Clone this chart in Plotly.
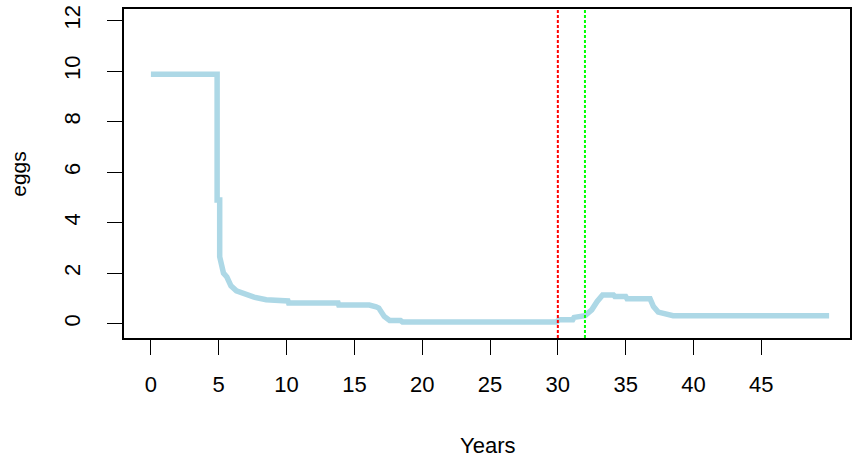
import plotly.graph_objects as go

# Data
years = [0, 4.88, 4.88, 5.07, 5.07, 5.2, 5.35, 5.6, 5.9, 6.3, 7.0, 7.6, 8.5, 10.1, 10.15, 13.8, 13.85,
         16.1, 16.6, 16.8, 17.2, 17.6, 18.4, 18.55, 29.9, 30.1, 31.1, 31.2, 32.0, 32.5, 32.9, 33.3,
         34.1, 34.2, 35.0, 35.1, 36.8, 37.05, 37.4, 38.4, 38.5, 50]
eggs = [9.87, 9.87, 4.9, 4.9, 2.65, 2.2, 2.0, 1.85, 1.5, 1.3, 1.15, 1.05, 0.95, 0.9, 0.82, 0.82, 0.74,
        0.74, 0.67, 0.62, 0.29, 0.13, 0.13, 0.07, 0.07, 0.16, 0.16, 0.25, 0.32, 0.55, 0.88, 1.14,
        1.14, 1.08, 1.08, 0.99, 0.99, 0.68, 0.46, 0.38, 0.32, 0.32]
vlines = [30, 32]
vline_colors = ["#FF0000", "#00FF00"]
x_ticks = [0, 5, 10, 15, 20, 25, 30, 35, 40, 45]
y_ticks = [0, 2, 4, 6, 8, 10, 12]

FONT = "Liberation Sans, Arial, sans-serif"

fig = go.Figure()
fig.add_trace(go.Scatter(x=years, y=eggs, mode="lines",
                         line=dict(color="#ADD8E6", width=5.5), showlegend=False,
                         hoverinfo="skip"))

for xv, col in zip(vlines, vline_colors):
    fig.add_shape(type="line", xref="x", yref="paper", x0=xv, x1=xv, y0=0, y1=1,
                  line=dict(color=col, width=2, dash="3px,2px"))

fig.update_layout(
    width=852, height=464,
    margin=dict(l=124, r=0, t=9, b=126),
    paper_bgcolor="white", plot_bgcolor="white",
    font=dict(family=FONT, size=21, color="#000000"),
    xaxis=dict(range=[-1.985, 51.54], tickvals=x_ticks, ticktext=[str(v) for v in x_ticks],
               showgrid=False, zeroline=False, showline=True, mirror=True,
               linecolor="#000000", linewidth=1.5, ticks="outside", ticklen=15,
               tickwidth=1.3, tickcolor="#000000", ticklabelstandoff=11,
               tickfont=dict(family=FONT, size=22)),
    yaxis=dict(range=[-0.565, 12.455], tickvals=y_ticks, ticktext=[str(v) for v in y_ticks],
               showgrid=False, zeroline=False, showline=True, mirror=True,
               linecolor="#000000", linewidth=1.5, ticks="outside", ticklen=15,
               tickwidth=1.3, tickcolor="#000000", tickangle=-90, ticklabelstandoff=18,
               tickfont=dict(family=FONT, size=22)),
    annotations=[
        dict(text="Years", xref="paper", yref="paper", x=(489 - 124) / 728, y=-(445 - 338) / 329,
             showarrow=False, xanchor="center", yanchor="middle",
             font=dict(family=FONT, size=22)),
        dict(text="eggs", xref="paper", yref="paper", x=-(124 - 18) / 728, y=0.5,
             showarrow=False, xanchor="center", yanchor="middle", textangle=-90,
             font=dict(family=FONT, size=21)),
    ],
)

fig.write_html("out.html")
